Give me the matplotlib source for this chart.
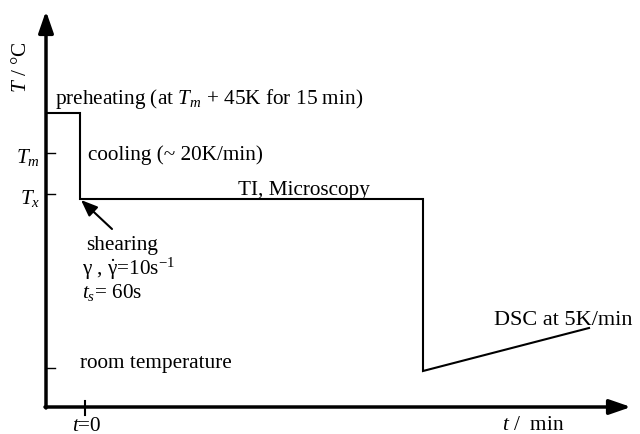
import matplotlib
matplotlib.use("Agg")
import matplotlib.pyplot as plt

plt.rcParams['font.family'] = ['Liberation Serif', 'DejaVu Serif']
plt.rcParams['mathtext.fontset'] = 'custom'
plt.rcParams['mathtext.rm'] = 'Liberation Serif'
plt.rcParams['mathtext.it'] = 'Liberation Serif:italic'

# temperature program (schematic units: time along x, temperature along y)
prog_t = [47, 80, 80, 423, 423, 589]
prog_T = [321, 321, 235, 235, 63, 106]

# marked levels on the temperature axis
T_ticks = [281, 240, 66]
T_tick_labels = [r'$T_m$', r'$T_x$', '']
t_zero = 85

fs = 15.3

fig = plt.figure(figsize=(6.4, 4.35), dpi=100)
ax = fig.add_axes([0, 0, 1, 1])
ax.set_xlim(0, 640)
ax.set_ylim(0, 435)
ax.axis('off')

# axes with arrow heads
ax.annotate('', xy=(631, 27), xytext=(45, 27),
            arrowprops=dict(arrowstyle='-|>,head_length=1.3,head_width=0.45',
                            lw=2.5, color='black', shrinkA=0, shrinkB=0))
ax.annotate('', xy=(46, 423), xytext=(46, 26),
            arrowprops=dict(arrowstyle='-|>,head_length=1.3,head_width=0.45',
                            lw=2.5, color='black', shrinkA=0, shrinkB=0))

# temperature profile
ax.plot(prog_t, prog_T, color='black', lw=1.5, solid_joinstyle='miter')

# ticks
for T, lab in zip(T_ticks, T_tick_labels):
    ax.plot([46, 55], [T, T], color='black', lw=1)
    if lab:
        ax.text(40, T - 4, lab, ha='right', va='center', fontsize=fs)
ax.plot([t_zero, t_zero], [19, 33], color='black', lw=1.5)
ax.text(t_zero + 2, 8, r'$t$=0', ha='center', va='center', fontsize=fs)

# axis labels
ax.text(22, 368, r'$T$ / °C', rotation=90, ha='center', va='center', fontsize=fs)
ax.text(502, 5, r'$t$ /  min', ha='left', va='baseline', fontsize=fs)

# annotations
ax.text(55, 331, r'preheating (at $T_m$ + 45K for 15 min)', ha='left',
        va='baseline', fontsize=fs)
ax.text(88, 275, 'cooling (~ 20K/min)', ha='left', va='baseline', fontsize=fs)
ax.text(238, 240, 'TI, Microscopy', ha='left', va='baseline', fontsize=fs)
ax.annotate('', xy=(81, 234), xytext=(112, 205),
            arrowprops=dict(arrowstyle='-|>,head_length=1.0,head_width=0.4',
                            lw=1.5, color='black', shrinkA=0, shrinkB=0))
ax.text(86, 185, 'shearing', ha='left', va='baseline', fontsize=fs)
ax.text(82, 160, r'γ , $\dot{\mathrm{γ}}$=10s$^{-1}$', ha='left', va='baseline', fontsize=fs)
ax.text(82, 137, r'$t_s$= 60s', ha='left', va='baseline', fontsize=fs)
ax.text(80, 67, 'room temperature', ha='left', va='baseline', fontsize=fs)
ax.text(494, 110, 'DSC at 5K/min', ha='left', va='baseline', fontsize=16)

fig.savefig('out.png', dpi=100)
